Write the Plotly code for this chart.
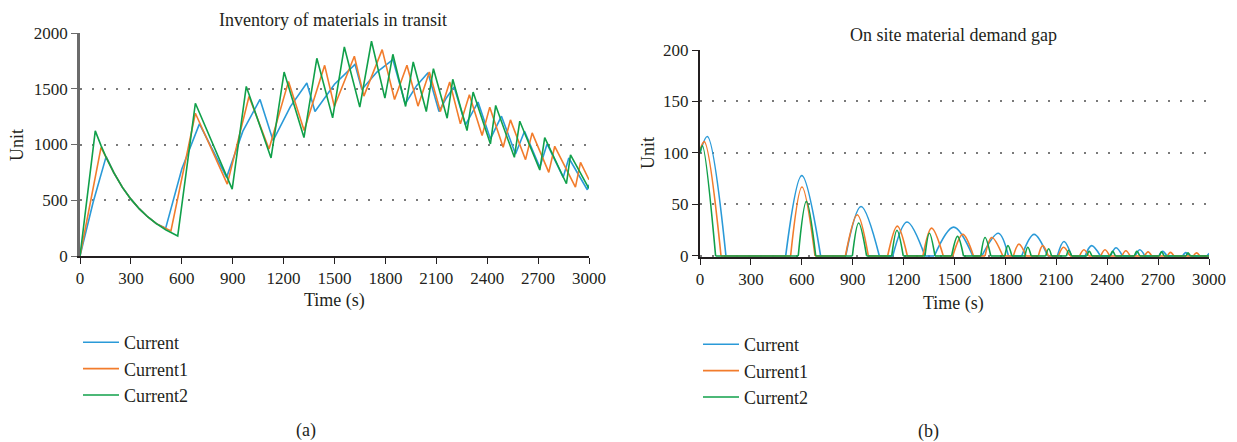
import plotly.graph_objects as go

# ---------------- (a) Inventory of materials in transit ----------------
series_names = ["Current", "Current1", "Current2"]
colors = ["#2a9ad8", "#f27c2c", "#10a04a"]

inv_t_current = [0, 77, 154, 200, 250, 300, 350, 400, 450, 505, 600, 704, 864, 960, 1061,
                 1138, 1240, 1337, 1385, 1500, 1621, 1661, 1750, 1844, 1917, 1985, 2051,
                 2116, 2160, 2205, 2272, 2346, 2419, 2484, 2567, 2620, 2710, 2753, 2848,
                 2881, 2990, 3000]
inv_v_current = [0, 480, 891, 745, 615, 510, 422, 350, 290, 250, 780, 1185, 705, 1120, 1404,
                 1035, 1340, 1551, 1296, 1540, 1719, 1494, 1650, 1761, 1365, 1530, 1644,
                 1296, 1420, 1515, 1176, 1380, 1050, 1254, 915, 1119, 795, 1005, 705,
                 879, 594, 640]

inv_t_current1 = [0, 124, 200, 250, 300, 350, 400, 450, 536, 680, 868, 996, 1114, 1229, 1321,
                  1442, 1499, 1617, 1673, 1781, 1854, 1927, 1992, 2059, 2124, 2179, 2242,
                  2295, 2370, 2415, 2494, 2537, 2626, 2665, 2763, 2798, 2920, 2950, 3000]
inv_v_current1 = [0, 975, 745, 615, 510, 422, 350, 290, 225, 1280, 645, 1431, 960, 1566, 1125,
                  1710, 1341, 1791, 1434, 1851, 1404, 1710, 1344, 1650, 1296, 1560, 1185,
                  1446, 1080, 1335, 975, 1221, 864, 1104, 750, 984, 618, 840, 684]

inv_t_current2 = [0, 90, 124, 154, 200, 250, 300, 350, 400, 450, 505, 536, 576, 680, 897, 980,
                  1126, 1203, 1320, 1396, 1489, 1558, 1649, 1718, 1797, 1844, 1919, 1964,
                  2041, 2083, 2164, 2197, 2281, 2317, 2419, 2450, 2560, 2592, 2710, 2739,
                  2867, 2891, 2999]
inv_v_current2 = [0, 1122, 990, 885, 745, 615, 510, 422, 350, 290, 236, 210, 180, 1370, 600, 1521,
                  879, 1650, 1062, 1773, 1239, 1875, 1335, 1926, 1416, 1809, 1341, 1740,
                  1296, 1680, 1236, 1585, 1125, 1470, 1005, 1350, 885, 1209, 771, 1062,
                  648, 906, 606]

# ---------------- (b) On site material demand gap (arches) ----------------
# each arch: start time, peak time, end time, peak value; first arch starts at initial value
gap_init = [100, 103, 100]

gap_start_current = [0, 505, 859, 1136, 1381, 1661, 1896, 2106, 2270, 2420, 2565, 2705, 2845, 2988]
gap_peak_t_current = [43, 600, 949, 1220, 1495, 1759, 1969, 2145, 2308, 2452, 2592, 2727, 2863, 3005]
gap_end_current = [153, 711, 1057, 1326, 1608, 1818, 2049, 2190, 2360, 2490, 2622, 2752, 2884, 3025]
gap_peak_current = [116, 78, 48, 33, 28, 22, 21, 14, 10, 8, 6, 4.5, 3.2, 2.5]

gap_start_current1 = [0, 534, 857, 1106, 1314, 1490, 1680, 1847, 1994, 2112, 2237, 2362, 2487, 2620, 2755, 2908]
gap_peak_t_current1 = [25, 601, 927, 1163, 1365, 1549, 1720, 1880, 2020, 2143, 2263, 2387, 2510, 2641, 2773, 2926]
gap_end_current1 = [124, 678, 992, 1222, 1434, 1612, 1785, 1922, 2053, 2180, 2290, 2414, 2535, 2662, 2793, 2946]
gap_peak_current1 = [111, 67, 40, 29, 27, 21, 18, 11.5, 10, 8.4, 6, 6, 5, 4, 3.5, 3]

gap_start_current2 = [0, 579, 898, 1130, 1326, 1483, 1655, 1797, 1915, 2038, 2160, 2280, 2418, 2560, 2708, 2865]
gap_peak_t_current2 = [14, 627, 935, 1161, 1352, 1518, 1680, 1815, 1932, 2055, 2173, 2294, 2432, 2575, 2720, 2876]
gap_end_current2 = [92, 682, 982, 1198, 1385, 1553, 1714, 1838, 1952, 2072, 2190, 2310, 2448, 2592, 2735, 2890]
gap_peak_current2 = [107, 53, 32, 25, 22, 19, 18, 10, 8.5, 7, 5.5, 4.5, 4.5, 4.5, 4, 3]

x_ticks = [0, 300, 600, 900, 1200, 1500, 1800, 2100, 2400, 2700, 3000]
y_ticks_a = [0, 500, 1000, 1500, 2000]
y_ticks_b = [0, 50, 100, 150, 200]

FONT = "Liberation Serif"
TXT = "#231f20"
# the page body adds an 8px offset, so the figure is sized to the remaining window
OFF = 8
W, H = 1237 - OFF, 442 - OFF


def fx(x):
    return (x - OFF) / W


def fy(y):
    return 1 - (y - OFF) / H


def arch_path(starts, peak_t, ends, peaks, init):
    xs, ys = [], []
    prev_end = None
    for i, (s, p, e, h) in enumerate(zip(starts, peak_t, ends, peaks)):
        if prev_end is not None:
            xs += [prev_end, s, None]
            ys += [0, 0, None]
        xs += [s, p, e, None]
        ys += [init if i == 0 else 0, h, 0, None]
        prev_end = e
    if prev_end < 3000:
        xs += [prev_end, 3000]
        ys += [0, 0]
    return xs, ys


fig = go.Figure()

inv_data = [(inv_t_current, inv_v_current), (inv_t_current1, inv_v_current1),
            (inv_t_current2, inv_v_current2)]
for name, col, (t, v) in zip(series_names, colors, inv_data):
    fig.add_trace(go.Scatter(x=t, y=v, mode="lines", name=name,
                             line=dict(color=col, width=1.6),
                             xaxis="x", yaxis="y", legend="legend"))

gap_data = [
    (gap_start_current, gap_peak_t_current, gap_end_current, gap_peak_current, gap_init[0]),
    (gap_start_current1, gap_peak_t_current1, gap_end_current1, gap_peak_current1, gap_init[1]),
    (gap_start_current2, gap_peak_t_current2, gap_end_current2, gap_peak_current2, gap_init[2]),
]
for name, col, d in zip(series_names, colors, gap_data):
    xs, ys = arch_path(*d)
    fig.add_trace(go.Scatter(x=xs, y=ys, mode="lines", name=name,
                             line=dict(color=col, width=1.6, shape="spline", smoothing=1),
                             connectgaps=False,
                             xaxis="x2", yaxis="y2", legend="legend2"))

axfont = dict(family=FONT, size=17, color=TXT)
common_x = dict(range=[0, 3000], tickvals=x_ticks, ticks="outside", ticklen=6,
                tickcolor="#231f20", tickwidth=1.3, showline=True, linecolor="#231f20",
                linewidth=1.5, showgrid=False, zeroline=False, tickfont=axfont,
                layer="below traces", automargin=False)
grid = dict(showgrid=True, gridcolor="#7a7a7a", gridwidth=1.8, griddash="1.8px,10.2px",
            zeroline=False, ticks="outside", ticklen=6, tickwidth=1.3, tickfont=axfont,
            showline=True, automargin=False)


def ann(text, x, y, size=18, angle=0, yanchor="middle"):
    return dict(text=text, x=fx(x), y=fy(y), xref="paper", yref="paper",
                xanchor="center", yanchor=yanchor, showarrow=False,
                textangle=angle, font=dict(family=FONT, size=size, color=TXT))


legfont = dict(family=FONT, size=18, color=TXT)

fig.update_layout(
    width=W, height=H,
    margin=dict(l=0, r=0, t=0, b=0, pad=0),
    paper_bgcolor="white", plot_bgcolor="white",
    font=dict(family=FONT, size=17, color=TXT),
    showlegend=True,
    xaxis=dict(domain=[fx(80), fx(589)], anchor="y", **common_x),
    yaxis=dict(domain=[fy(256), fy(33)], anchor="x", range=[0, 2000],
               tickvals=y_ticks_a, linecolor="#6b6b6b", linewidth=2.5,
               tickcolor="#6b6b6b", **grid),
    xaxis2=dict(domain=[fx(700), fx(1209)], anchor="y2", **common_x),
    yaxis2=dict(domain=[fy(257), fy(50)], anchor="x2", range=[-1, 200],
                tickvals=y_ticks_b, linecolor="#231f20", linewidth=2,
                tickcolor="#231f20", **grid),
    legend=dict(x=fx(78), y=fy(324), xanchor="left", yanchor="top",
                font=legfont, itemwidth=36, tracegroupgap=0,
                bgcolor="rgba(0,0,0,0)"),
    legend2=dict(x=fx(698), y=fy(326), xanchor="left", yanchor="top",
                 font=legfont, itemwidth=36, tracegroupgap=0,
                 bgcolor="rgba(0,0,0,0)"),
    annotations=[
        ann("Inventory of materials in transit", 333, 8.5, 18, yanchor="top"),
        ann("On site material demand gap", 953, 35, 18),
        ann("Unit", 17, 145, 18, -90),
        ann("Unit", 648, 153, 18, -90),
        ann("Time (s)", 334, 300, 18),
        ann("Time (s)", 953, 303, 18),
        ann("(a)", 306, 430, 18),
        ann("(b)", 928, 431, 18),
    ],
)

fig.write_html("out.html")
